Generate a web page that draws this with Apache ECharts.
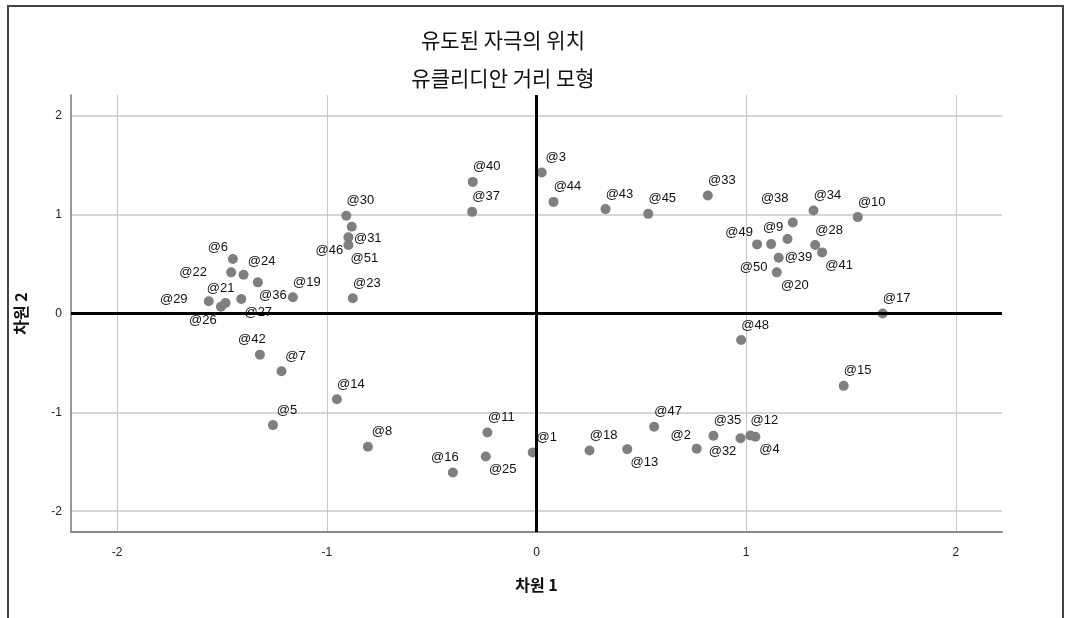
<!DOCTYPE html>
<html>
<head>
<meta charset="utf-8">
<script src="https://cdn.jsdelivr.net/npm/echarts@6/dist/echarts.min.js"></script>
<style>
  html, body { margin: 0; padding: 0; background: #fff; }
  #box1 { width: 1070px; height: 618px; }
</style>
</head>
<body>
<div id="box1"></div>
<script>
var chartDom = document.getElementById('box1');
var myChart = echarts.init(chartDom);

// 자극 이름과 좌표 (차원 1, 차원 2)
var names = ['@1', '@2', '@3', '@4', '@5', '@6', '@7', '@8', '@9', '@10',
    '@11', '@12', '@13', '@14', '@15', '@16', '@17', '@18', '@19', '@20',
    '@21', '@22', '@23', '@24', '@25', '@26', '@27', '@28', '@29', '@30',
    '@31', '@32', '@33', '@34', '@35', '@36', '@37', '@38', '@39', '@40',
    '@41', '@42', '@43', '@44', '@45', '@46', '@47', '@48', '@49', '@50', '@51'];
var dim1 = [-0.018, 0.764, 0.025, 1.044, -1.257, -1.448, -1.216, -0.804, 1.119, 1.532,
    -0.234, 1.020, 0.433, -0.952, 1.465, -0.399, 1.651, 0.253, -1.162, 1.146,
    -1.483, -1.456, -0.876, -1.397, -0.242, -1.505, -1.408, 1.329, -1.563, -0.907,
    -0.881, 0.973, 0.817, 1.321, 0.844, -1.329, -0.307, 1.222, 1.197, -0.304,
    1.362, -1.319, 0.329, 0.081, 0.533, -0.897, 0.561, 0.976, 1.052, 1.155, -0.897];
var dim2 = [-1.406, -1.367, 1.426, -1.247, -1.129, 0.551, -0.584, -1.348, 0.702, 0.975,
    -1.204, -1.234, -1.372, -0.867, -0.732, -1.608, 0.000, -1.386, 0.164, 0.416,
    0.106, 0.416, 0.154, 0.392, -1.446, 0.069, 0.146, 0.692, 0.123, 0.988,
    0.877, -1.261, 1.194, 1.042, -1.237, 0.315, 1.028, 0.921, 0.753, 1.331,
    0.618, -0.416, 1.056, 1.129, 1.008, 0.770, -1.146, -0.268, 0.699, 0.564, 0.692];
var tickValues = [-2, -1, 0, 1, 2];

// 라벨 위치 (기본은 오른쪽 위)
var labelShift = {
    '@2': [-16, -13], '@4': [14, 13], '@6': [-15, -12], '@9': [2, -17],
    '@13': [17, 13], '@16': [-8, -15], '@20': [18, 13], '@21': [-5, -15],
    '@22': [-38, 0], '@24': [18, -13], '@25': [17, 13], '@26': [-18, 14],
    '@27': [17, 13], '@29': [-35, -2], '@31': [16, 12], '@32': [-18, 13],
    '@36': [15, 13], '@38': [-18, -24], '@39': [11, 18], '@41': [17, 13],
    '@42': [-8, -15], '@46': [-19, 13], '@49': [-18, -12], '@50': [-25, 10],
    '@51': [16, 13]
};

var points = names.map(function (n, i) {
    return {
        name: n,
        value: [dim1[i], dim2[i]],
        label: { offset: labelShift[n] || [14, -15] }
    };
});

function tickLabel(v) {
    return tickValues.indexOf(v) >= 0 ? String(v) : '';
}

var titleFont = '21px "Noto Sans CJK KR", sans-serif';

var option = {
    backgroundColor: '#fff',
    animation: false,
    graphic: [
        {
            type: 'rect',
            shape: { x: 8, y: 6, width: 1055, height: 700 },
            style: { fill: 'none', stroke: '#444', lineWidth: 2 },
            silent: true
        },
        {
            type: 'text', x: 503, y: 40,
            style: { text: '유도된 자극의 위치', fill: '#111', font: titleFont, align: 'center', verticalAlign: 'middle' }
        },
        {
            type: 'text', x: 503, y: 78,
            style: { text: '유클리디안 거리 모형', fill: '#111', font: titleFont, align: 'center', verticalAlign: 'middle' }
        }
    ],
    grid: { left: 71, right: 68, top: 95, bottom: 86 },
    xAxis: {
        type: 'value',
        min: -2.22,
        max: 2.22,
        name: '차원 1',
        nameLocation: 'middle',
        nameGap: 45,
        nameTextStyle: { fontSize: 16, fontWeight: 'bold', color: '#111', fontFamily: '"Noto Sans CJK KR", sans-serif' },
        axisLine: { show: true, onZero: false, lineStyle: { color: '#888', width: 2 } },
        axisTick: { show: false },
        axisLabel: { formatter: tickLabel, showMinLabel: false, showMaxLabel: false, color: '#222', fontSize: 12, margin: 15, fontFamily: 'Liberation Sans' },
        splitLine: { show: true, showMinLine: false, showMaxLine: false, lineStyle: { color: '#c8c8c8', width: 1 } }
    },
    yAxis: {
        type: 'value',
        min: -2.21,
        max: 2.21,
        name: '차원 2',
        nameLocation: 'middle',
        nameGap: 42,
        nameTextStyle: { fontSize: 16, fontWeight: 'bold', color: '#111', fontFamily: '"Noto Sans CJK KR", sans-serif' },
        axisLine: { show: true, onZero: false, lineStyle: { color: '#777', width: 1.5 } },
        axisTick: { show: false },
        axisLabel: { formatter: tickLabel, showMinLabel: false, showMaxLabel: false, color: '#222', fontSize: 12, margin: 9, fontFamily: 'Liberation Sans' },
        splitLine: { show: true, showMinLine: false, showMaxLine: false, lineStyle: { color: '#c8c8c8', width: 1.5 } }
    },
    series: [{
        type: 'scatter',
        symbolSize: 10,
        itemStyle: { color: '#7f7f7f', opacity: 1 },
        label: {
            show: true,
            position: 'inside',
            formatter: '{b}',
            color: '#111',
            fontSize: 13,
            fontFamily: 'Liberation Sans'
        },
        markLine: {
            silent: true,
            symbol: 'none',
            animation: false,
            label: { show: false },
            lineStyle: { color: '#000', width: 3, type: 'solid' },
            data: [{ xAxis: 0 }, { yAxis: 0 }]
        },
        data: points
    }]
};

myChart.setOption(option);
</script>
</body>
</html>
